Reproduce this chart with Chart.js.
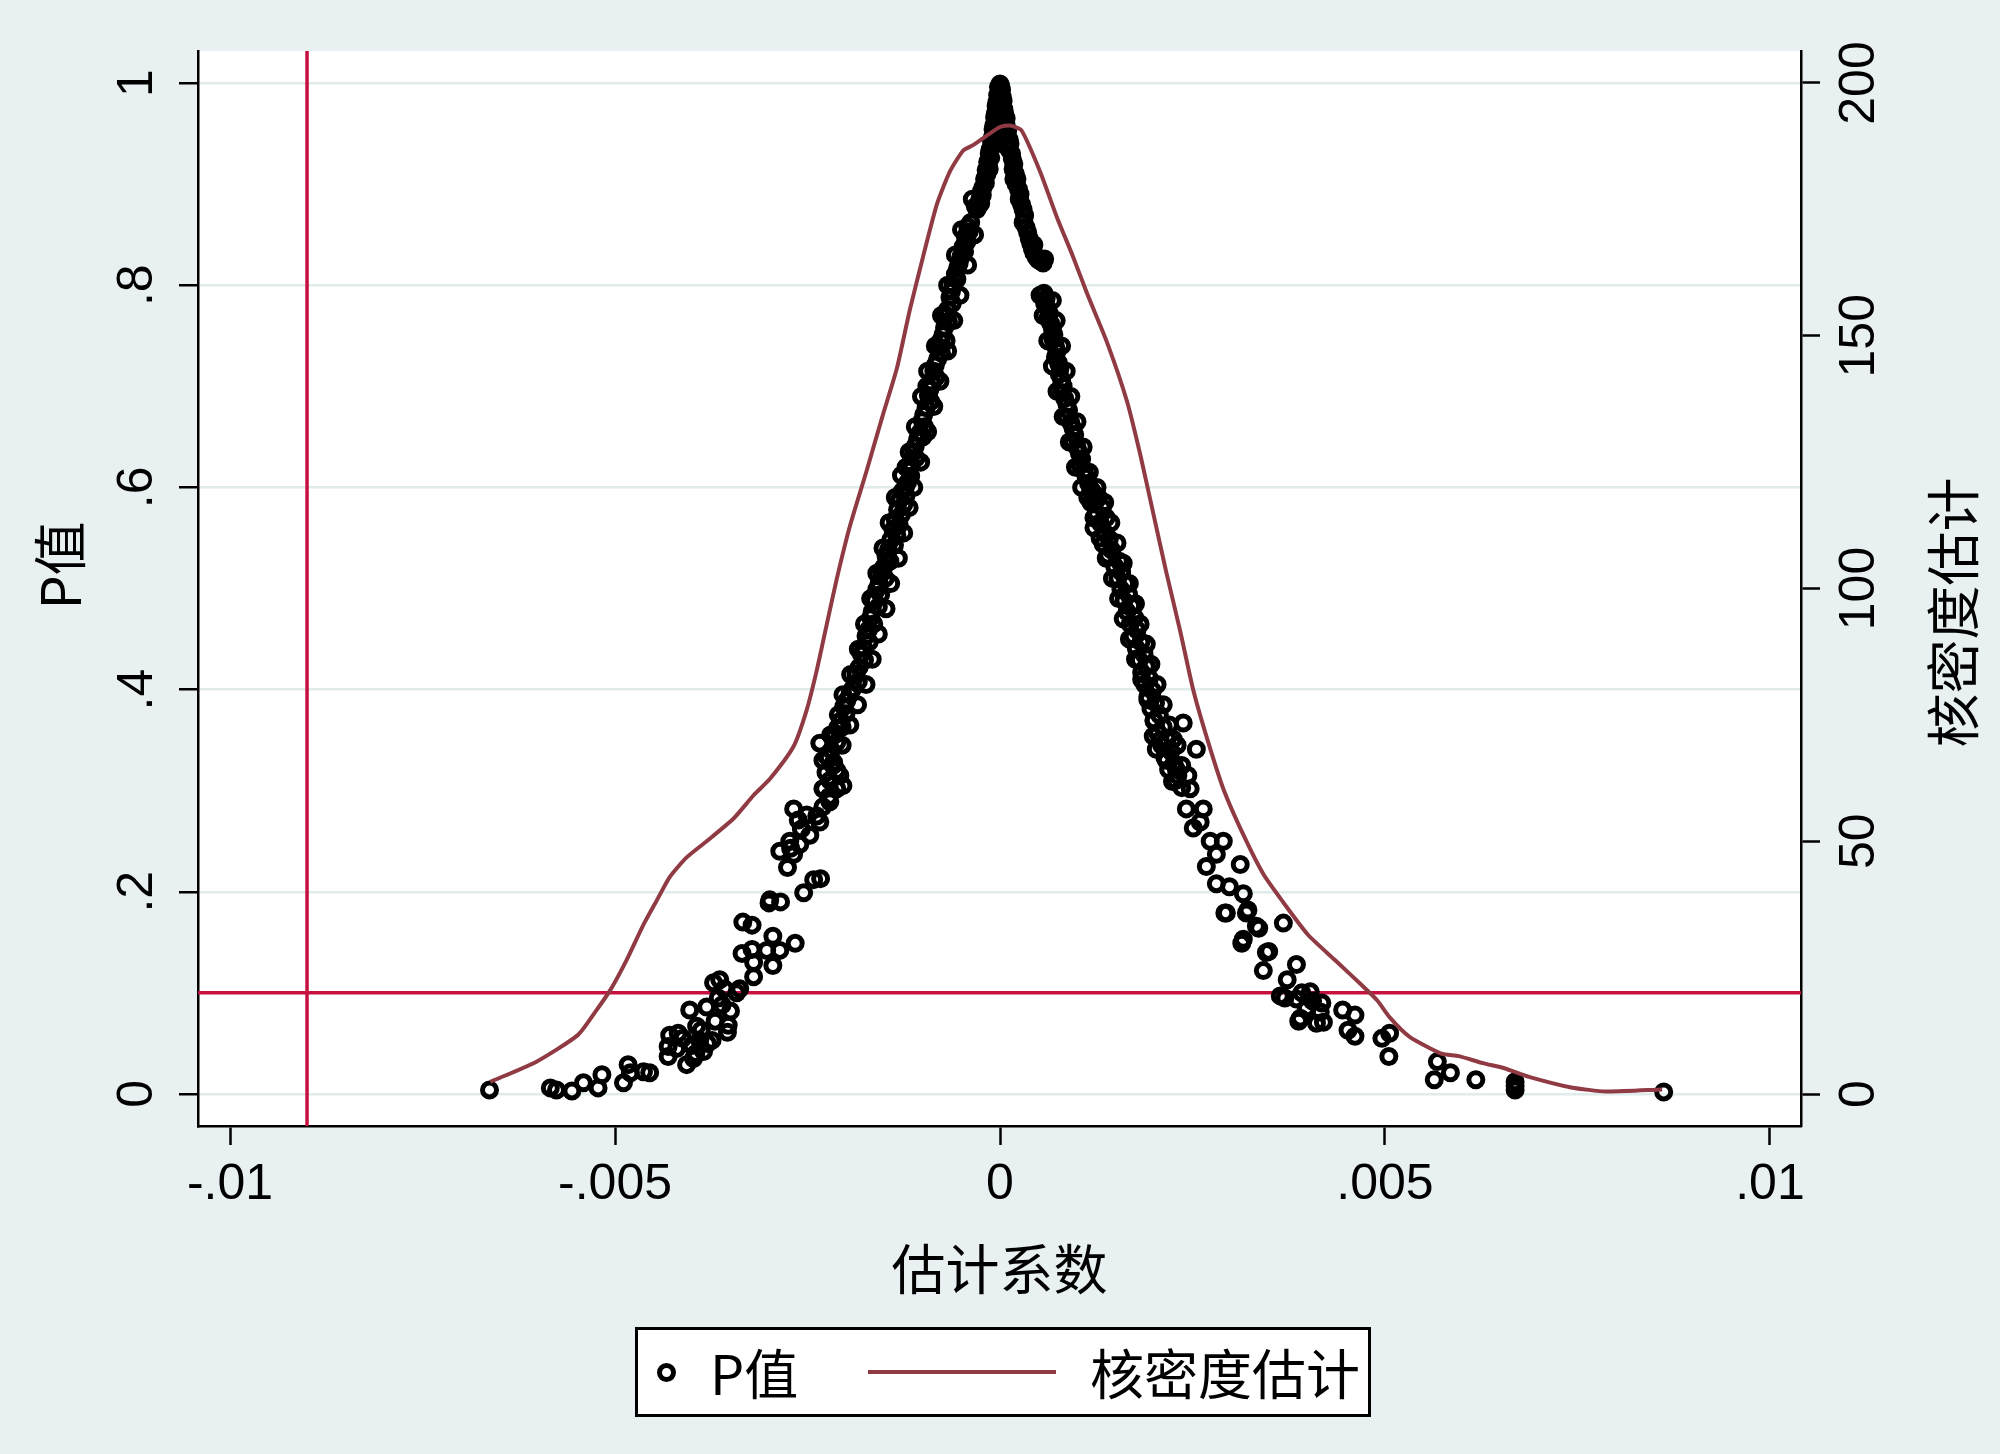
<!DOCTYPE html>
<html>
<head>
<meta charset="utf-8">
<script src="https://cdn.jsdelivr.net/npm/chart.js@4/dist/chart.umd.min.js"></script>
<style>
  html, body { margin: 0; padding: 0; background: #e8f0f2; }
  #wrap { position: relative; width: 2000px; height: 1454px; }
  #legend {
    position: absolute; left: 635px; top: 1327px;
    width: 730px; height: 84px;
    border: 3px solid #000; background: #fff;
    font-family: "Noto Sans CJK SC", sans-serif; font-size: 54px; color: #000;
  }
  #legend .txt { position: absolute; top: 0; line-height: 84px; white-space: nowrap; }
  #legend .dot {
    position: absolute; left: 19px; top: 33px;
    width: 9px; height: 9px; border: 5px solid #000; border-radius: 50%;
  }
  #legend .ln { position: absolute; left: 230px; top: 40px; width: 188px; height: 4px; background: #903a44; }
</style>
</head>
<body>
<div id="wrap">
  <canvas id="chart" width="2000" height="1454"></canvas>
  <div id="legend">
    <span class="dot"></span>
    <span class="txt" style="left:72px">P值</span>
    <span class="ln"></span>
    <span class="txt" style="left:452px">核密度估计</span>
  </div>
</div>
<script>
// estimated coefficient and p-value of each placebo run, left of zero
const coefLeft = [
  0.00000, -0.00002, 0.00001, -0.00001, -0.00003, -0.00002, -0.00004, -0.00005, -0.00003, -0.00006,
  -0.00007, -0.00005, -0.00008, -0.00009, -0.00007, -0.00010, -0.00011, -0.00009, -0.00013, -0.00014,
  -0.00012, -0.00016, -0.00015, -0.00018, -0.00017, -0.00020, -0.00019, -0.00022, -0.00024, -0.00023,
  -0.00026, -0.00025, -0.00028, -0.00030,
  -0.00038, -0.00042, -0.00040, -0.00045, -0.00043, -0.00048, -0.00046, -0.00051, -0.00053, -0.00055,
  -0.00058, -0.00056, -0.00061, -0.00063, -0.00065, -0.00062, -0.00068, -0.00070, -0.00067, -0.00072,
  -0.00074, -0.00077, -0.00070, -0.00079, -0.00076, -0.00081, -0.00084, -0.00086, -0.00083, -0.00088,
  -0.00095, -0.00091, -0.00093, -0.00090, -0.00096, -0.00099, -0.00101, -0.00098, -0.00104, -0.00100,
  -0.00107, -0.00110, -0.00112, -0.00109, -0.00115, -0.00122, -0.00118, -0.00116, -0.00120, -0.00123,
  -0.00127, -0.00122, -0.00130, -0.00125, -0.00133, -0.00128, -0.00136, -0.00131, -0.00139, -0.00134,
  -0.00142, -0.00137, -0.00145, -0.00148, -0.00143, -0.00151, -0.00154, -0.00149, -0.00157, -0.00160,
  -0.00155, -0.00163, -0.00158, -0.00166, -0.00168, -0.00164, -0.00171, -0.00174, -0.00170, -0.00177,
  -0.00180, -0.00176, -0.00183, -0.00187, -0.00184, -0.00191, -0.00195, -0.00199, -0.00203, -0.00200,
  -0.00207, -0.00211, -0.00215, -0.00212, -0.00219, -0.00223, -0.00217, -0.00226, -0.00221, -0.00229,
  -0.00234, -0.00225, -0.00216, -0.00208, -0.00230, -0.00212, -0.00204, -0.00221, -0.00268, -0.00251,
  -0.00234, -0.00286, -0.00273, -0.00260, -0.00247, -0.00272, -0.00258, -0.00276, -0.00242, -0.00233,
  -0.00255, -0.00268, -0.00262, -0.00238, -0.00230, -0.00222, -0.00217, -0.00205, -0.00300, -0.00285,
  -0.00299,
  -0.00335, -0.00334, -0.00322, -0.00320, -0.00322, -0.00303, -0.00295, -0.00295, -0.00286, -0.00266,
  -0.00342, -0.00372, -0.00364, -0.00361, -0.00353, -0.00354, -0.00381, -0.00374, -0.00385, -0.00390,
  -0.00394, -0.00403, -0.00407, -0.00429, -0.00431, -0.00431, -0.00420, -0.00412, -0.00400, -0.00395,
  -0.00388, -0.00380, -0.00370, -0.00366, -0.00358, -0.00350, -0.00418, -0.00398, -0.00338, -0.00320,
  -0.00663, -0.00584, -0.00576, -0.00556, -0.00541, -0.00522, -0.00517, -0.00489, -0.00483, -0.00480,
  -0.00463, -0.00455,
  -0.00050, -0.00033, -0.00058, -0.00042, -0.00068, -0.00052, -0.00076, -0.00060, -0.00084, -0.00068,
  -0.00094, -0.00078, -0.00102, -0.00086, -0.00110, -0.00094, -0.00118, -0.00103, -0.00128, -0.00112,
  -0.00136, -0.00118, -0.00144, -0.00125, -0.00152, -0.00132, -0.00160, -0.00142, -0.00168, -0.00148,
  -0.00176, -0.00158, -0.00184, -0.00166, -0.00194, -0.00174, -0.00204, -0.00185, -0.00210, -0.00195,
  -0.00220, -0.00205, -0.00230, -0.00212,
  -0.00036, -0.00032, -0.00014, -0.00006
];
const pLeft = [
  0.999, 0.996, 0.994, 0.991, 0.988, 0.985, 0.981, 0.977, 0.974, 0.970,
  0.966, 0.962, 0.958, 0.954, 0.950, 0.946, 0.942, 0.938, 0.934, 0.930,
  0.926, 0.922, 0.918, 0.914, 0.910, 0.905, 0.901, 0.897, 0.893, 0.889,
  0.885, 0.881, 0.878, 0.875,
  0.862, 0.858, 0.853, 0.848, 0.843, 0.838, 0.833, 0.828, 0.822, 0.817,
  0.811, 0.806, 0.800, 0.794, 0.788, 0.782, 0.776, 0.770, 0.764, 0.758,
  0.751, 0.745, 0.745, 0.739, 0.733, 0.727, 0.721, 0.715, 0.709, 0.703,
  0.700, 0.697, 0.691, 0.685, 0.679, 0.672, 0.666, 0.660, 0.654, 0.650,
  0.648, 0.641, 0.635, 0.629, 0.623, 0.620, 0.617, 0.611, 0.605, 0.600,
  0.596, 0.592, 0.588, 0.583, 0.578, 0.573, 0.568, 0.563, 0.558, 0.553,
  0.548, 0.543, 0.538, 0.532, 0.527, 0.521, 0.516, 0.510, 0.505, 0.499,
  0.494, 0.488, 0.482, 0.477, 0.471, 0.465, 0.459, 0.453, 0.447, 0.441,
  0.435, 0.429, 0.422, 0.415, 0.408, 0.401, 0.395, 0.389, 0.383, 0.376,
  0.369, 0.362, 0.355, 0.348, 0.340, 0.333, 0.326, 0.318, 0.310, 0.302,
  0.347, 0.334, 0.328, 0.315, 0.302, 0.302, 0.305, 0.289, 0.282, 0.276,
  0.269, 0.240, 0.250, 0.247, 0.256, 0.243, 0.262, 0.224, 0.212, 0.213,
  0.199, 0.237, 0.271, 0.275, 0.284, 0.294, 0.325, 0.363, 0.189, 0.190,
  0.192,
  0.139, 0.170, 0.167, 0.116, 0.143, 0.142, 0.156, 0.127, 0.142, 0.149,
  0.100, 0.110, 0.113, 0.088, 0.068, 0.061, 0.086, 0.053, 0.042, 0.053,
  0.067, 0.083, 0.029, 0.058, 0.047, 0.037, 0.045, 0.055, 0.048, 0.040,
  0.063, 0.050, 0.072, 0.095, 0.104, 0.082, 0.060, 0.035, 0.104, 0.130,
  0.004, 0.006, 0.004, 0.003, 0.011, 0.006, 0.019, 0.011, 0.029, 0.021,
  0.022, 0.021,
  0.855, 0.850, 0.830, 0.820, 0.800, 0.790, 0.770, 0.765, 0.740, 0.735,
  0.715, 0.705, 0.690, 0.680, 0.660, 0.655, 0.635, 0.625, 0.612, 0.600,
  0.590, 0.580, 0.565, 0.555, 0.540, 0.530, 0.515, 0.505, 0.490, 0.480,
  0.465, 0.455, 0.440, 0.430, 0.415, 0.405, 0.395, 0.385, 0.375, 0.365,
  0.355, 0.345, 0.330, 0.320,
  0.885, 0.878, 0.915, 0.945
];

// right of zero
const coefRight = [
  0.00001, 0.00002, 0.00000, 0.00003, 0.00004, 0.00002, 0.00005, 0.00006, 0.00007, 0.00005,
  0.00008, 0.00010, 0.00009, 0.00012, 0.00013, 0.00011, 0.00015, 0.00016, 0.00018, 0.00017,
  0.00020, 0.00022, 0.00021, 0.00024, 0.00026, 0.00025, 0.00028, 0.00030, 0.00032, 0.00031,
  0.00034, 0.00036, 0.00038, 0.00040, 0.00042, 0.00044, 0.00047, 0.00050, 0.00053, 0.00056,
  0.00057, 0.00060, 0.00058, 0.00062, 0.00064, 0.00062, 0.00066, 0.00068, 0.00070, 0.00069,
  0.00072, 0.00074, 0.00072, 0.00076, 0.00078, 0.00077, 0.00080, 0.00082, 0.00080, 0.00084,
  0.00087, 0.00089, 0.00086, 0.00092, 0.00095, 0.00097, 0.00094, 0.00100, 0.00103, 0.00106,
  0.00104, 0.00109, 0.00112, 0.00115, 0.00118, 0.00121, 0.00124,
  0.00120, 0.00128, 0.00118, 0.00133, 0.00125, 0.00138, 0.00130, 0.00122, 0.00136, 0.00142,
  0.00134, 0.00145, 0.00140, 0.00155, 0.00149, 0.00158, 0.00153, 0.00163, 0.00157, 0.00167,
  0.00161, 0.00171, 0.00165, 0.00175, 0.00169, 0.00178, 0.00173, 0.00183, 0.00177, 0.00187,
  0.00181, 0.00190, 0.00184, 0.00194, 0.00188, 0.00198, 0.00192, 0.00202, 0.00196, 0.00207,
  0.00200, 0.00212, 0.00205, 0.00217, 0.00210, 0.00222, 0.00214, 0.00226, 0.00219, 0.00231,
  0.00224, 0.00236,
  0.00199, 0.00203, 0.00225, 0.00238, 0.00229, 0.00247, 0.00255, 0.00242, 0.00251, 0.00264,
  0.00273, 0.00281, 0.00290, 0.00281, 0.00294, 0.00312, 0.00316, 0.00320, 0.00333, 0.00316,
  0.00346, 0.00342, 0.00368, 0.00292, 0.00322, 0.00336, 0.00314, 0.00349, 0.00385, 0.00260,
  0.00268, 0.00298,
  0.00364, 0.00373, 0.00370, 0.00388, 0.00385, 0.00390, 0.00392, 0.00403, 0.00411, 0.00416,
  0.00418, 0.00420, 0.00445, 0.00452, 0.00461, 0.00461, 0.00496, 0.00506, 0.00505, 0.00398,
  0.00406,
  0.00568, 0.00564, 0.00585, 0.00618, 0.00669, 0.00669, 0.00669, 0.00862,
  0.00052, 0.00068, 0.00056, 0.00073, 0.00062, 0.00080, 0.00068, 0.00086, 0.00074, 0.00092,
  0.00082, 0.00100, 0.00090, 0.00108, 0.00098, 0.00116, 0.00106, 0.00126,
  0.00114, 0.00136, 0.00122, 0.00144, 0.00130, 0.00152, 0.00138, 0.00160, 0.00146, 0.00168,
  0.00154, 0.00176, 0.00160, 0.00182, 0.00168, 0.00190, 0.00176, 0.00196, 0.00184, 0.00204,
  0.00192, 0.00212, 0.00200, 0.00220, 0.00208, 0.00230, 0.00216, 0.00236, 0.00228, 0.00244,
  0.00030, 0.00044, 0.00018, 0.00008, 0.00058
];
const pRight = [
  0.997, 0.993, 0.990, 0.986, 0.982, 0.978, 0.974, 0.970, 0.966, 0.962,
  0.958, 0.953, 0.949, 0.944, 0.940, 0.935, 0.930, 0.925, 0.920, 0.915,
  0.910, 0.905, 0.900, 0.895, 0.890, 0.885, 0.880, 0.875, 0.869, 0.863,
  0.857, 0.852, 0.846, 0.841, 0.836, 0.832, 0.828, 0.825, 0.824, 0.822,
  0.792, 0.787, 0.782, 0.777, 0.772, 0.767, 0.762, 0.757, 0.751, 0.746,
  0.740, 0.735, 0.729, 0.723, 0.718, 0.712, 0.706, 0.700, 0.694, 0.688,
  0.682, 0.676, 0.670, 0.664, 0.658, 0.652, 0.646, 0.640, 0.634, 0.628,
  0.622, 0.616, 0.610, 0.604, 0.598, 0.592, 0.586,
  0.596, 0.590, 0.585, 0.580, 0.575, 0.570, 0.565, 0.560, 0.555, 0.549,
  0.544, 0.538, 0.533, 0.527, 0.522, 0.516, 0.510, 0.505, 0.499, 0.494,
  0.488, 0.483, 0.477, 0.471, 0.465, 0.459, 0.453, 0.447, 0.441, 0.435,
  0.429, 0.423, 0.417, 0.411, 0.405, 0.399, 0.393, 0.387, 0.381, 0.375,
  0.369, 0.363, 0.357, 0.351, 0.345, 0.339, 0.333, 0.327, 0.321, 0.315,
  0.309, 0.303,
  0.354, 0.341, 0.351, 0.367, 0.321, 0.302, 0.341, 0.282, 0.263, 0.282,
  0.250, 0.237, 0.250, 0.208, 0.179, 0.227, 0.198, 0.179, 0.166, 0.153,
  0.140, 0.122, 0.169, 0.179, 0.182, 0.164, 0.149, 0.141, 0.128, 0.269,
  0.225, 0.205,
  0.097, 0.113, 0.095, 0.072, 0.094, 0.075, 0.100, 0.101, 0.070, 0.081,
  0.090, 0.071, 0.083, 0.063, 0.078, 0.057, 0.055, 0.060, 0.037, 0.085,
  0.092,
  0.032, 0.014, 0.021, 0.014, 0.012, 0.004, 0.008, 0.002,
  0.790, 0.785, 0.770, 0.765, 0.745, 0.740, 0.720, 0.715, 0.695, 0.690,
  0.670, 0.665, 0.645, 0.640, 0.620, 0.615, 0.600, 0.600,
  0.590, 0.585, 0.570, 0.565, 0.550, 0.545, 0.530, 0.525, 0.510, 0.505,
  0.490, 0.485, 0.470, 0.465, 0.450, 0.445, 0.430, 0.425, 0.410, 0.405,
  0.390, 0.385, 0.370, 0.365, 0.350, 0.345, 0.330, 0.325, 0.310, 0.315,
  0.862, 0.840, 0.905, 0.965, 0.826
];

// kernel density of the coefficients (right axis)
const kdeCoef = [
  -0.00662, -0.00602, -0.00548, -0.00524, -0.00506, -0.00485, -0.00463, -0.00445, -0.00429, -0.00407,
  -0.00381, -0.00346, -0.00320, -0.00299, -0.00268, -0.00251, -0.00238, -0.00225, -0.00212, -0.00195,
  -0.00173, -0.00152, -0.00134, -0.00117, -0.00100, -0.00082, -0.00065, -0.00048, -0.00035, -0.00017,
  0.00000, 0.00013, 0.00028, 0.00052, 0.00074, 0.00095, 0.00113, 0.00139, 0.00165, 0.00182,
  0.00199, 0.00216, 0.00234, 0.00251, 0.00268, 0.00290, 0.00316, 0.00342, 0.00366, 0.00400,
  0.00435, 0.00470, 0.00490, 0.00507, 0.00532, 0.00573, 0.00596, 0.00627, 0.00655, 0.00687,
  0.00742, 0.00787, 0.00860
];
const kdeDensity = [
  2.4, 6.4, 11.7, 16.6, 20.6, 26.5, 33.5, 38.5, 42.9, 46.8,
  50.0, 54.5, 59.1, 62.3, 68.8, 76.0, 83.8, 92.9, 101.9, 112.3,
  123.4, 134.4, 143.5, 155.2, 165.6, 176.0, 182.5, 186.6, 187.7, 189.6,
  191.3, 191.6, 190.6, 182.5, 173.4, 165.6, 158.4, 148.7, 137.0, 126.6,
  114.9, 103.2, 91.6, 79.9, 70.8, 60.4, 51.3, 43.5, 38.3, 31.5,
  26.5, 21.5, 18.5, 15.0, 11.3, 8.0, 7.5, 6.1, 5.1, 3.4,
  1.3, 0.5, 0.9
];

const xTicks = [-0.01, -0.005, 0, 0.005, 0.01];
const xTickLabels = ['-.01', '-.005', '0', '.005', '.01'];
const pTicks = [0, 0.2, 0.4, 0.6, 0.8, 1];
const pTickLabels = ['0', '.2', '.4', '.6', '.8', '1'];
const densityTicks = [0, 50, 100, 150, 200];
const densityTickLabels = ['0', '50', '100', '150', '200'];

const refCoef = -0.009;  // vertical reference line
const refP = 0.1;        // horizontal reference line

const bgColor = '#e8f0f2';
const gridColor = '#e0ebec';
const kdeColor = '#903a44';
const refColor = '#c81040';
const tickFont = { family: '"Liberation Sans", Arial, sans-serif', size: 50 };
const cjkFont = '"Noto Sans CJK SC", sans-serif';

const points = coefLeft.map((c, i) => ({ x: c, y: pLeft[i] }))
  .concat(coefRight.map((c, i) => ({ x: c, y: pRight[i] })));
const kdeLine = kdeCoef.map((c, i) => ({ x: c, y: kdeDensity[i] }));

// white plot region on the bluish-gray page
const plotBackground = {
  id: 'plotBackground',
  beforeDraw(chart) {
    const { ctx, chartArea: a } = chart;
    ctx.save();
    ctx.fillStyle = bgColor;
    ctx.fillRect(0, 0, chart.width, chart.height);
    ctx.fillStyle = '#fff';
    ctx.fillRect(a.left, a.top, a.right - a.left, a.bottom - a.top);
    ctx.restore();
  }
};

const refLines = {
  id: 'refLines',
  beforeDatasetsDraw(chart) {
    const { ctx, chartArea: a, scales } = chart;
    const px = scales.x.getPixelForValue(refCoef);
    const py = scales.y.getPixelForValue(refP);
    ctx.save();
    ctx.strokeStyle = refColor;
    ctx.lineWidth = 3.5;
    ctx.beginPath();
    ctx.moveTo(px, a.top);
    ctx.lineTo(px, a.bottom);
    ctx.moveTo(a.left, py);
    ctx.lineTo(a.right, py);
    ctx.stroke();
    ctx.restore();
  }
};

// both vertical titles read bottom to top, like the original
const sideTitles = {
  id: 'sideTitles',
  afterDraw(chart) {
    const { ctx, chartArea: a } = chart;
    const mid = (a.top + a.bottom) / 2;
    ctx.save();
    ctx.fillStyle = '#000';
    ctx.font = '54px ' + cjkFont;
    ctx.textAlign = 'center';
    ctx.textBaseline = 'middle';
    [['P值', 60, mid - 23], ['核密度估计', 1953, mid + 24]].forEach(([t, x, y]) => {
      ctx.save();
      ctx.translate(x, y);
      ctx.rotate(-Math.PI / 2);
      ctx.fillText(t, 0, 0);
      ctx.restore();
    });
    ctx.restore();
  }
};

new Chart(document.getElementById('chart'), {
  type: 'scatter',
  data: {
    datasets: [
      {
        type: 'line',
        label: '核密度估计',
        data: kdeLine,
        yAxisID: 'y2',
        borderColor: kdeColor,
        borderWidth: 4,
        pointRadius: 0,
        tension: 0.2,
        fill: false,
        order: 0
      },
      {
        label: 'P值',
        data: points,
        yAxisID: 'y',
        pointStyle: 'circle',
        pointRadius: 7,
        pointBorderWidth: 5,
        pointBorderColor: '#000',
        pointBackgroundColor: 'rgba(0,0,0,0)',
        order: 1
      }
    ]
  },
  options: {
    responsive: false,
    animation: false,
    events: [],
    layout: { padding: { top: 51, left: 0, right: 0, bottom: 0 } },
    plugins: { legend: { display: false }, tooltip: { enabled: false } },
    scales: {
      x: {
        type: 'linear',
        position: 'bottom',
        min: -0.010416,
        max: 0.010403,
        afterBuildTicks: s => { s.ticks = xTicks.map(v => ({ value: v })); },
        afterFit: s => { s.height = 328; },
        ticks: {
          callback: (v, i) => xTickLabels[i],
          font: tickFont, color: '#000', padding: 10,
          maxRotation: 0, autoSkip: false
        },
        grid: { drawOnChartArea: false, tickLength: 19, tickWidth: 2.5, tickColor: '#000' },
        border: { display: true, color: '#000', width: 2.5 },
        title: {
          display: true, text: '估计系数', color: '#000',
          font: { family: cjkFont, size: 54 },
          padding: { top: 0, bottom: 152 }
        }
      },
      y: {
        type: 'linear',
        position: 'left',
        min: -0.0317,
        max: 1.0317,
        afterBuildTicks: s => { s.ticks = pTicks.map(v => ({ value: v })); },
        afterFit: s => { s.width = 198; },
        ticks: {
          callback: (v, i) => pTickLabels[i],
          font: tickFont, color: '#000', padding: 20,
          minRotation: 90, maxRotation: 90, crossAlign: 'center', autoSkip: false
        },
        grid: { color: gridColor, lineWidth: 2.5, tickLength: 19, tickWidth: 2.5, tickColor: '#000' },
        border: { display: true, color: '#000', width: 2.5 }
      },
      y2: {
        type: 'linear',
        position: 'right',
        min: -6.33,
        max: 206.33,
        afterBuildTicks: s => { s.ticks = densityTicks.map(v => ({ value: v })); },
        afterFit: s => { s.width = 199; },
        ticks: {
          callback: (v, i) => densityTickLabels[i],
          font: tickFont, color: '#000', padding: -1,
          minRotation: 90, maxRotation: 90, crossAlign: 'center', autoSkip: false
        },
        grid: { drawOnChartArea: false, tickLength: 19, tickWidth: 2.5, tickColor: '#000' },
        border: { display: true, color: '#000', width: 2.5 }
      }
    }
  },
  plugins: [plotBackground, refLines, sideTitles]
});
</script>
</body>
</html>
